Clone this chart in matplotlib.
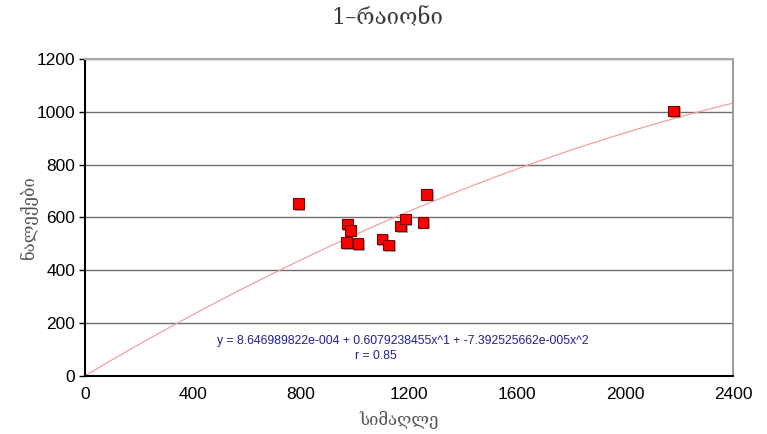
import numpy as np
import matplotlib as mpl
import matplotlib.patheffects as pe
from matplotlib import pyplot as plt

# station data: elevation (m) vs precipitation (mm)
elevation = [790, 971, 983, 970, 1011, 1100, 1125, 1169, 1186, 1252, 1266, 2181]
precip = [652, 575, 551, 505, 500, 518, 495, 567, 594, 581, 687, 1003]

# quadratic fit coefficients
c0 = 8.646989822e-004
c1 = 0.6079238455
c2 = -7.392525662e-005
r_value = 0.85

x_ticks = [0, 400, 800, 1200, 1600, 2000, 2400]
y_ticks = [0, 200, 400, 600, 800, 1000, 1200]

title = '1–რაიონი'
xlabel = 'სიმაღლე'
ylabel = 'ნალექები'

mpl.rcParams['font.family'] = ['Liberation Sans', 'DejaVu Sans']

fig = plt.figure(figsize=(7.67, 4.34), dpi=100)
ax = fig.add_axes([0.1108, 0.1343, 0.8449, 0.7297])

# horizontal grid only
ax.set_axisbelow(True)
ax.yaxis.grid(True, color='#6e6e6e', linewidth=1.0)

# fitted curve
xs = np.linspace(0, 2400, 200)
ax.plot(xs, c0 + c1 * xs + c2 * xs ** 2, color='#f4a0a0', linewidth=0.9, zorder=2)

# data points with a small drop shadow
ax.plot(elevation, precip, linestyle='none', marker='s', markersize=7.8,
        markerfacecolor='#ff0000', markeredgecolor='#7a0000', markeredgewidth=0.8,
        zorder=3,
        path_effects=[pe.SimplePatchShadow(offset=(1.2, -1.2), shadow_rgbFace='#909090', alpha=0.8),
                      pe.Normal()])

ax.set_xlim(0, 2400)
ax.set_ylim(0, 1200)
ax.set_xticks(x_ticks)
ax.set_yticks(y_ticks)
ax.tick_params(axis='x', length=0, pad=8, labelsize=12.5)
ax.tick_params(axis='y', length=4, width=1, direction='out', pad=3, labelsize=12.5)

for side in ['left', 'bottom']:
    ax.spines[side].set_color('black')
    ax.spines[side].set_linewidth(1.5)
ax.spines['right'].set_color('#8a8a8a')
ax.spines['top'].set_color('#a8a8a8')
ax.spines['right'].set_linewidth(1.2)
ax.spines['top'].set_linewidth(1.5)

# equation of the fit
eq = 'y = %.9e + %.10fx^1 + %.9ex^2' % (c0, c1, c2)
eq = eq.replace('e-0', 'e-00')
ax.text(1178, 130, eq, color='#1e1e96', fontsize=8.8, ha='center', va='center')
ax.text(1078, 74, 'r = %.2f' % r_value, color='#1e1e96', fontsize=8.8, ha='center', va='center')

fig.text(0.505, 0.958, title, family=['DejaVu Serif', 'DejaVu Sans'], fontsize=16,
         color='#3a3a3a', ha='center', va='center')
fig.text(0.52, 0.032, xlabel, family=['DejaVu Serif', 'DejaVu Sans'], fontsize=12,
         color='#555555', ha='center', va='center')
fig.text(0.037, 0.5, ylabel, family=['DejaVu Serif', 'DejaVu Sans'], fontsize=12,
         color='#555555', ha='center', va='center', rotation=90)

fig.savefig('out.png', dpi=100)
